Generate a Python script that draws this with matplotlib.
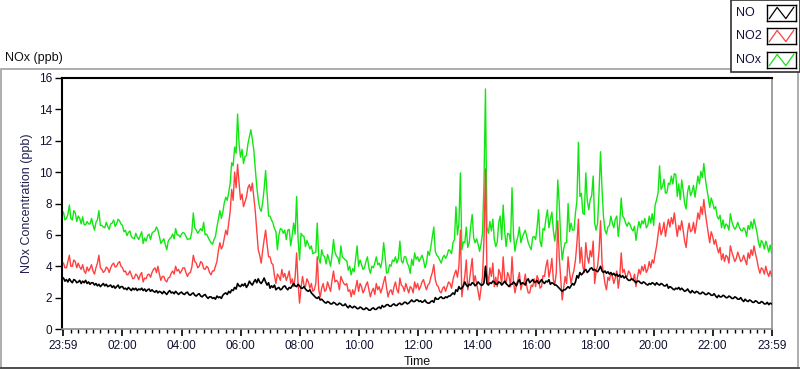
import numpy as np
import matplotlib
matplotlib.use("Agg")
import matplotlib.pyplot as plt
from matplotlib.patches import Rectangle
from matplotlib.lines import Line2D

plt.rcParams['font.family'] = ['Liberation Sans', 'DejaVu Sans']

# ---------------- data: one row per hour, 3-minute steps ----------------
no = [
    3.25, 3.05, 3.15, 3.0, 3.2, 3.05, 2.95, 3.15, 3.1, 2.95, 3.0, 3.1, 2.9, 3.05, 2.95, 3.1, 2.9, 3.0, 2.85, 2.95,
    2.95, 2.8, 2.9, 2.75, 2.85, 2.7, 2.8, 2.9, 2.75, 2.85, 2.7, 2.75, 2.8, 2.65, 2.75, 2.6, 2.7, 2.8, 2.6, 2.7,
    2.7, 2.55, 2.6, 2.5, 2.65, 2.55, 2.45, 2.6, 2.5, 2.6, 2.45, 2.55, 2.5, 2.6, 2.45, 2.55, 2.4, 2.5, 2.55, 2.4,
    2.5, 2.4, 2.35, 2.45, 2.3, 2.4, 2.35, 2.25, 2.4, 2.3, 2.2, 2.35, 2.45, 2.3, 2.35, 2.25, 2.4, 2.3, 2.2, 2.3,
    2.35, 2.25, 2.2, 2.3, 2.35, 2.2, 2.15, 2.25, 2.3, 2.15, 2.1, 2.2, 2.25, 2.1, 2.05, 2.15, 2.2, 2.05, 1.95, 2.05,
    2.05, 1.95, 2.0, 1.9, 2.1, 2.0, 2.05, 1.95, 2.15, 2.25, 2.3, 2.2, 2.4, 2.3, 2.5, 2.45, 2.65, 2.55, 2.9, 2.75,
    2.7, 2.85, 2.75, 2.9, 2.65, 2.8, 3.05, 2.9, 2.8, 3.0, 3.15, 2.95, 3.2, 3.0, 2.9, 3.05, 3.25, 3.0, 2.8, 2.95,
    2.6, 2.75, 2.65, 2.8, 2.5, 2.6, 2.65, 2.5, 2.55, 2.7, 2.75, 2.6, 2.5, 2.65, 2.6, 2.75, 2.9, 2.75, 2.7, 2.85,
    2.75, 2.6, 2.6, 2.7, 2.55, 2.45, 2.4, 2.5, 2.3, 2.2, 2.1, 2.0, 1.95, 2.05, 1.85, 1.9, 1.8, 1.7, 1.65, 1.75,
    1.7, 1.6, 1.6, 1.7, 1.65, 1.55, 1.55, 1.65, 1.6, 1.5, 1.5, 1.6, 1.45, 1.35, 1.5, 1.4, 1.35, 1.45, 1.4, 1.3,
    1.3, 1.4, 1.35, 1.25, 1.25, 1.35, 1.3, 1.2, 1.2, 1.3, 1.35, 1.25, 1.25, 1.35, 1.4, 1.3, 1.5, 1.4, 1.45, 1.55,
    1.55, 1.45, 1.45, 1.55, 1.6, 1.5, 1.5, 1.6, 1.65, 1.55, 1.6, 1.7, 1.7, 1.6, 1.65, 1.75, 1.85, 1.75, 1.75, 1.85,
    1.85, 1.75, 1.8, 1.7, 1.75, 1.85, 1.7, 1.65, 1.65, 1.75, 1.8, 1.7, 2.0, 1.9, 1.9, 2.0, 2.05, 1.95, 1.95, 2.05,
    2.0, 2.1, 2.1, 2.2, 2.3, 2.2, 2.5, 2.4, 2.7, 2.55, 2.6, 2.75, 3.0, 2.8, 2.7, 2.85, 2.8, 2.95, 2.9, 2.75,
    2.85, 3.0, 2.9, 2.8, 2.8, 2.95, 4.0, 2.9, 2.8, 2.95, 2.9, 3.05, 3.0, 2.85, 2.85, 3.0, 2.95, 2.8, 2.9, 3.05,
    2.9, 2.8, 2.7, 2.85, 2.85, 3.0, 2.9, 2.75, 3.0, 3.15, 2.85, 2.95, 2.9, 2.8, 3.1, 3.2, 2.95, 3.05, 3.15, 3.0,
    3.0, 3.1, 2.9, 3.0, 3.15, 3.0, 2.9, 3.05, 3.0, 3.15, 2.85, 2.95, 2.9, 2.8, 2.8, 2.7, 2.6, 2.5, 2.4, 2.5,
    2.5, 2.6, 2.7, 2.6, 2.75, 2.9, 2.8, 3.0, 3.4, 3.25, 3.6, 3.45, 3.55, 3.7, 3.8, 3.6, 3.7, 3.85, 3.9, 3.75,
    3.8, 3.7, 3.65, 3.8, 4.0, 3.7, 3.6, 3.7, 3.55, 3.65, 3.5, 3.6, 3.45, 3.55, 3.4, 3.5, 3.35, 3.45, 3.3, 3.4,
    3.25, 3.35, 3.2, 3.1, 3.1, 3.2, 3.15, 3.05, 2.95, 3.05, 3.05, 2.95, 2.9, 3.0, 2.95, 2.85, 2.8, 2.9, 2.85, 2.95,
    2.9, 2.8, 2.95, 2.85, 2.8, 2.9, 2.85, 2.75, 2.75, 2.85, 2.6, 2.7, 2.65, 2.55, 2.5, 2.6, 2.55, 2.65, 2.5, 2.6,
    2.5, 2.4, 2.45, 2.55, 2.4, 2.3, 2.45, 2.35, 2.3, 2.4, 2.35, 2.25, 2.25, 2.35, 2.3, 2.2, 2.2, 2.3, 2.25, 2.15,
    2.15, 2.25, 2.1, 2.0, 2.15, 2.05, 2.05, 2.15, 2.1, 2.0, 2.0, 2.1, 2.05, 1.95, 1.95, 2.05, 2.0, 1.9, 1.9, 2.0,
    1.85, 1.75, 1.9, 1.8, 1.75, 1.85, 1.8, 1.7, 1.7, 1.8, 1.75, 1.65, 1.65, 1.75, 1.7, 1.6, 1.6, 1.7, 1.55, 1.65,
    1.6,
]

no2 = [
    4.2, 3.9, 3.9, 4.3, 4.7, 4.0, 4.0, 4.4, 4.3, 3.9, 4.2, 3.95, 3.8, 4.1, 3.7, 3.55, 3.95, 3.7, 3.85, 4.1,
    3.7, 3.5, 3.9, 4.2, 4.7, 3.9, 3.8, 3.6, 3.7, 3.95, 3.85, 3.6, 3.9, 4.1, 4.2, 3.95, 4.0, 4.2, 4.3, 4.0,
    3.9, 3.65, 3.7, 3.45, 3.5, 3.7, 3.45, 3.2, 3.25, 3.5, 3.4, 3.15, 3.45, 3.6, 3.0, 3.25, 3.2, 3.45, 3.5, 3.3,
    3.6, 3.8, 3.9, 3.6, 4.0, 3.5, 3.1, 3.35, 3.35, 3.1, 3.0, 3.25, 3.3, 3.55, 3.7, 3.5, 4.0, 3.7, 3.8, 3.55,
    3.7, 3.9, 3.9, 3.6, 3.35, 3.55, 3.6, 3.95, 4.7, 4.3, 4.2, 3.9, 4.0, 4.3, 4.2, 3.85, 3.8, 4.0, 3.9, 3.6,
    3.45, 3.7, 3.7, 4.0, 4.3, 5.0, 5.5, 5.1, 5.3, 5.8, 6.3, 6.0, 6.75, 7.5, 8.9, 8.2, 10.0, 9.0, 10.5, 9.3,
    8.25, 8.6, 7.8, 8.1, 8.4, 9.0, 9.2, 8.8, 9.3, 8.4, 7.5, 6.3, 5.05, 4.7, 4.2, 5.0, 5.7, 6.3, 5.4, 4.6,
    4.6, 4.2, 4.1, 3.4, 2.9, 3.5, 3.35, 3.1, 3.8, 3.3, 3.55, 3.1, 3.35, 3.7, 2.9, 3.2, 2.7, 3.3, 4.85, 2.9,
    1.65, 2.6, 3.35, 2.8, 2.7, 3.2, 3.0, 2.6, 2.9, 2.4, 2.5, 2.9, 4.6, 2.5, 2.05, 2.6, 2.9, 2.4, 2.5, 3.0,
    2.7, 2.4, 3.1, 3.7, 3.0, 3.1, 3.0, 2.5, 3.35, 3.1, 2.9, 2.8, 2.9, 2.4, 2.5, 2.05, 2.5, 2.2, 2.6, 3.1,
    2.4, 2.9, 2.7, 2.3, 2.5, 2.8, 3.0, 2.5, 2.05, 2.4, 2.6, 2.2, 2.9, 2.5, 2.7, 2.3, 2.6, 3.0, 3.35, 2.6,
    2.05, 2.4, 2.5, 2.2, 2.7, 3.0, 2.5, 2.3, 3.25, 2.8, 2.7, 2.4, 2.9, 2.6, 2.3, 2.7, 2.6, 2.3, 3.0, 2.6,
    2.9, 2.5, 2.7, 3.0, 3.15, 2.8, 2.5, 2.8, 2.9, 3.3, 3.6, 4.1, 3.15, 2.8, 2.7, 2.4, 2.3, 2.6, 2.7, 2.4,
    2.7, 3.0, 2.9, 2.6, 3.15, 3.5, 3.75, 3.3, 4.0, 6.3, 2.05, 2.8, 3.35, 4.4, 2.5, 3.0, 3.75, 4.5, 2.9, 3.4,
    2.9, 2.4, 1.85, 2.6, 3.35, 5.7, 10.2, 3.6, 2.9, 3.9, 3.35, 4.2, 2.7, 3.3, 2.7, 3.8, 3.55, 2.9, 4.6, 3.2,
    2.9, 3.6, 3.35, 2.7, 4.6, 3.0, 2.3, 2.8, 3.15, 3.6, 2.5, 2.9, 2.9, 3.5, 2.7, 2.3, 2.3, 2.8, 2.7, 3.2,
    2.7, 3.4, 3.15, 2.6, 2.7, 3.4, 3.35, 4.0, 4.4, 3.3, 3.75, 4.5, 3.15, 2.8, 3.6, 6.9, 4.6, 3.2, 1.85, 2.6,
    3.35, 2.9, 4.6, 3.6, 2.9, 3.4, 3.75, 4.4, 5.5, 7.0, 4.2, 5.2, 4.0, 3.6, 5.5, 4.6, 4.2, 5.0, 4.6, 5.6,
    2.9, 3.7, 4.0, 5.0, 6.9, 4.2, 3.55, 2.9, 2.5, 3.3, 3.1, 3.6, 3.35, 2.9, 3.25, 3.7, 2.6, 3.3, 4.85, 3.6,
    3.8, 3.4, 3.35, 3.7, 3.55, 3.2, 3.1, 3.5, 2.7, 3.3, 3.8, 3.5, 4.0, 3.7, 4.1, 3.6, 3.8, 4.3, 3.9, 4.4,
    4.2, 4.8, 5.3, 6.0, 6.75, 6.0, 6.3, 6.8, 5.9, 6.5, 7.0, 6.5, 7.1, 6.7, 7.4, 6.6, 5.9, 6.6, 6.3, 6.9,
    6.3, 5.6, 5.2, 6.2, 6.75, 6.2, 6.3, 6.8, 6.1, 6.7, 7.4, 7.0, 7.8, 7.3, 8.25, 7.4, 6.75, 6.1, 5.5, 6.2,
    5.9, 5.4, 5.7, 5.2, 4.85, 5.2, 4.4, 4.8, 4.3, 4.7, 4.6, 4.2, 5.3, 4.9, 4.6, 4.3, 4.5, 4.9, 4.6, 4.3,
    4.4, 4.7, 4.4, 4.1, 4.85, 4.5, 5.05, 4.7, 5.3, 4.8, 4.4, 3.9, 3.55, 3.9, 3.8, 3.5, 4.0, 3.6, 3.35, 3.7,
    3.35,
]

nox = [
    7.45, 6.95, 7.05, 7.3, 7.9, 7.05, 6.95, 7.55, 7.4, 6.85, 7.2, 7.05, 6.7, 7.15, 6.65, 6.65, 6.85, 6.7, 6.7, 7.05,
    6.65, 6.3, 6.8, 6.95, 7.55, 6.6, 6.6, 6.5, 6.45, 6.8, 6.55, 6.35, 6.7, 6.75, 6.95, 6.55, 6.7, 7.0, 6.9, 6.7,
    6.6, 6.2, 6.3, 5.95, 6.15, 6.25, 5.9, 5.8, 5.75, 6.1, 5.85, 5.7, 5.95, 6.2, 5.45, 5.8, 5.6, 5.95, 6.05, 5.7,
    6.1, 6.2, 6.25, 6.5, 6.3, 5.9, 5.45, 5.6, 5.75, 5.4, 5.05, 5.6, 5.75, 5.85, 6.05, 5.75, 6.4, 6.0, 6.0, 5.85,
    6.05, 6.15, 6.1, 5.9, 5.7, 5.75, 5.75, 6.2, 7.4, 6.45, 6.3, 6.1, 6.25, 6.4, 6.25, 6.8, 6.0, 6.05, 5.85, 5.65,
    5.5, 5.4, 5.7, 5.9, 6.5, 7.0, 7.55, 7.05, 7.45, 8.05, 8.4, 8.2, 8.7, 9.3, 10.6, 10.4, 11.6, 11.2, 13.7, 11.8,
    10.95, 11.45, 10.55, 11.0, 11.05, 11.8, 12.25, 12.7, 12.1, 11.4, 10.2, 9.1, 8.25, 7.7, 7.5, 8.05, 8.95, 10.1, 8.7, 7.2,
    7.2, 6.95, 6.75, 6.4, 6.2, 5.05, 6.0, 6.4, 6.35, 6.1, 6.3, 5.7, 6.3, 6.35, 5.3, 5.95, 6.75, 6.05, 8.45, 5.75,
    4.4, 6.1, 5.95, 5.9, 5.25, 5.65, 5.4, 5.1, 5.3, 4.8, 4.85, 4.9, 6.75, 4.55, 4.2, 5.05, 4.7, 4.6, 4.15, 4.75,
    4.4, 4.0, 4.7, 5.7, 4.9, 4.65, 4.55, 4.15, 5.3, 4.6, 4.5, 4.4, 4.35, 3.75, 4.0, 3.45, 3.85, 3.65, 4.5, 5.3,
    4.0, 4.4, 4.1, 3.8, 3.9, 4.3, 4.6, 3.9, 3.55, 4.0, 3.9, 4.2, 4.6, 4.1, 4.2, 3.9, 4.4, 5.5, 4.6, 3.55,
    3.6, 4.1, 4.0, 4.4, 4.3, 4.6, 4.2, 4.5, 5.6, 4.35, 4.2, 4.6, 4.6, 4.2, 4.0, 3.55, 4.45, 4.05, 4.85, 4.45,
    4.6, 4.3, 4.5, 4.7, 4.4, 3.9, 4.2, 4.95, 4.7, 5.25, 5.9, 6.5, 4.95, 4.7, 4.6, 4.4, 4.2, 4.55, 4.7, 4.5,
    4.7, 5.05, 5.0, 4.8, 5.5, 5.7, 7.8, 6.0, 6.75, 9.95, 5.05, 5.55, 5.5, 6.5, 5.2, 5.5, 6.55, 7.3, 5.8, 5.5,
    5.75, 5.4, 4.95, 5.4, 6.1, 9.3, 15.3, 6.5, 6.1, 6.85, 6.25, 7.0, 5.7, 5.25, 5.55, 6.8, 7.2, 5.7, 7.9, 6.25,
    5.25, 6.1, 6.05, 5.55, 9.0, 6.0, 4.95, 5.55, 5.9, 6.5, 5.5, 5.85, 6.1, 6.3, 5.9, 5.5, 5.25, 5.05, 5.85, 5.9,
    5.7, 6.5, 7.6, 5.6, 5.25, 6.4, 6.3, 7.05, 7.6, 6.45, 7.0, 7.45, 6.3, 5.6, 6.4, 9.5, 8.0, 5.7, 4.4, 5.1,
    5.5, 5.5, 8.0, 6.2, 6.75, 6.3, 6.3, 7.4, 8.2, 11.9, 8.45, 8.65, 7.4, 7.3, 9.95, 8.2, 7.6, 8.25, 8.5, 9.75,
    6.75, 6.3, 6.75, 8.8, 11.3, 8.9, 7.15, 6.3, 6.05, 6.5, 6.6, 7.2, 6.75, 6.45, 7.0, 7.2, 5.9, 6.75, 8.35, 7.2,
    7.05, 6.75, 6.55, 6.8, 6.65, 6.4, 6.25, 6.55, 5.65, 6.35, 6.85, 6.45, 6.9, 6.7, 7.05, 6.45, 6.6, 7.2, 6.75, 7.35,
    6.6, 7.9, 8.25, 8.7, 10.4, 8.9, 9.1, 9.55, 8.65, 8.7, 9.3, 9.2, 9.75, 9.25, 9.9, 9.85, 8.45, 9.25, 8.25, 9.5,
    8.8, 8.0, 7.65, 8.75, 9.15, 8.5, 8.75, 9.15, 8.4, 9.1, 9.75, 9.25, 10.05, 9.65, 10.55, 9.6, 8.95, 8.4, 7.75, 8.35,
    8.05, 7.65, 7.8, 7.2, 7.0, 7.25, 6.45, 6.95, 6.4, 6.7, 6.6, 6.3, 7.35, 6.85, 6.55, 6.35, 6.5, 6.8, 6.5, 6.3,
    6.25, 6.45, 6.3, 5.9, 6.6, 6.35, 6.85, 6.4, 7.0, 6.6, 6.15, 5.55, 5.2, 5.65, 5.5, 5.1, 5.6, 5.3, 4.9, 5.35,
    4.85,
]

series_names = ["NO", "NO2", "NOx"]
series_colors = ["#000000", "#ff4040", "#12e612"]

xtick_hours = [0, 2, 4, 6, 8, 10, 12, 14, 16, 18, 20, 22, 24]
xtick_labels = ["23:59", "02:00", "04:00", "06:00", "08:00", "10:00", "12:00",
                "14:00", "16:00", "18:00", "20:00", "22:00", "23:59"]
ytick_values = [0, 2, 4, 6, 8, 10, 12, 14, 16]

n_pts = min(len(no), len(no2), len(nox))
hours = np.linspace(0, 24, 481)[:n_pts]   # sample times (hours after 23:59)

# ---------------- figure ----------------
W, H = 800, 369
fig = plt.figure(figsize=(W / 100, H / 100), dpi=100)
fig.patch.set_facecolor("white")


def fx(px):
    return px / W


def fy(py):
    return 1 - py / H


# outer panel frame
fig.add_artist(Rectangle((fx(0.5), fy(367.5)), fx(797.5), (367.5 - 69) / H,
                         transform=fig.transFigure, fill=False,
                         edgecolor="#a0a0a0", lw=1.2, zorder=0))
fig.add_artist(Line2D([fx(0), fx(800)], [fy(367.5), fy(367.5)],
                      transform=fig.transFigure, color="#404040", lw=1.2))

fig.text(fx(5), fy(58), "NOx (ppb)", fontsize=9, va="center", ha="left",
         color="#101010")

ax = fig.add_axes([fx(62), fy(329), fx(772) - fx(62), (329 - 78) / H])
ax.set_facecolor("white")

ax.plot(hours, nox[:n_pts], color=series_colors[2], lw=1.0, zorder=2)
ax.plot(hours, no2[:n_pts], color=series_colors[1], lw=1.0, zorder=3)
ax.plot(hours, no[:n_pts], color=series_colors[0], lw=1.2, zorder=4)

ax.set_xlim(-0.05, 24.01)
ax.set_ylim(0, 16)

ax.set_xticks(xtick_hours)
ax.set_xticklabels(xtick_labels)
ax.set_xticks(np.arange(0, 24.01, 0.25), minor=True)
ax.set_yticks(ytick_values)
ax.set_yticklabels([str(v) for v in ytick_values])

ax.tick_params(axis="x", which="major", direction="out", length=5, width=1.2,
               pad=3, labelsize=8.5, color="black", labelcolor="#101030")
ax.tick_params(axis="x", which="minor", direction="out", length=3, width=1,
               color="black")
ax.tick_params(axis="y", which="major", direction="out", length=5, width=1,
               pad=2, labelsize=8.5, color="black", labelcolor="#101030")

for side in ("left", "top"):
    ax.spines[side].set_color("black")
    ax.spines[side].set_linewidth(1.5)
for side in ("right", "bottom"):
    ax.spines[side].set_color("#909090")
    ax.spines[side].set_linewidth(1.2)

ax.set_ylabel("NOx Concentration (ppb)", fontsize=9, color="#202050", labelpad=4)
ax.set_xlabel("Time", fontsize=9, color="#101010", labelpad=3)

# ---------------- legend (top right) ----------------
fig.add_artist(Rectangle((fx(730.5), fy(72)), fx(70), 72 / H,
                         transform=fig.transFigure, facecolor="white",
                         edgecolor="#303030", lw=1.2, zorder=1))
legend_y = [13, 36, 60]
for name, col, yc in zip(series_names, series_colors, legend_y):
    fig.text(fx(736), fy(yc), name, fontsize=9, va="center", ha="left",
             color="#101040", zorder=3)
    lax = fig.add_axes([fx(767), fy(yc + 8), fx(29), 16 / H])
    lax.set_zorder(5)
    lax.set_facecolor("white")
    lax.set_xlim(0, 1)
    lax.set_ylim(0, 1)
    lax.set_xticks([])
    lax.set_yticks([])
    for s in lax.spines.values():
        s.set_color("black")
        s.set_linewidth(1)
    lax.plot([0.08, 0.35, 0.65, 0.92], [0.15, 0.85, 0.15, 0.85], color=col, lw=0.9)

fig.savefig("out.png", dpi=100, facecolor="white")
